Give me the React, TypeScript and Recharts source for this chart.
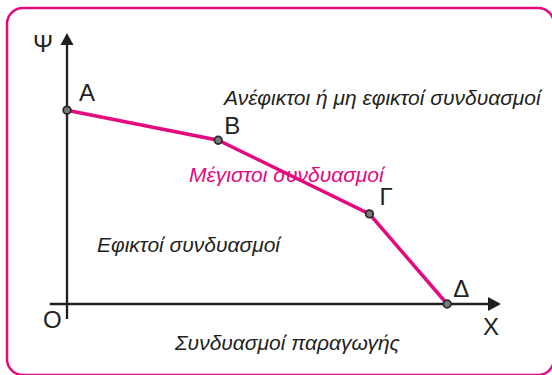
import React from 'react';
import { LineChart, Line, XAxis, YAxis, ReferenceLine, ReferenceDot, LabelList, Customized } from 'recharts';

const pointNames = ['A', 'B', 'Γ', 'Δ'];
const xValues = [0, 35, 70, 88];
const yValues = [71, 60, 33, 0];
const xAxisName = 'X';
const yAxisName = 'Ψ';
const originName = 'O';
const regionTexts = [
  'Ανέφικτοι ή μη εφικτοί συνδυασμοί',
  'Μέγιστοι συνδυασμοί',
  'Εφικτοί συνδυασμοί',
  'Συνδυασμοί παραγωγής',
];

const data = pointNames.map((name, i) => ({ name, x: xValues[i], y: yValues[i] }));

const PINK = '#e5097f';
const DARK = '#231f20';
const FONT = '"Liberation Sans", Arial, sans-serif';
const LETTER = 24;
const REGION = 21;

const labelOffsets = [
  { dx: 12, dy: -9 },
  { dx: 6, dy: -6 },
  { dx: 10, dy: -9 },
  { dx: 6, dy: -7 },
];

const PointLabel = (props: any) => {
  const { x, y, index, value } = props;
  const o = labelOffsets[index] || { dx: 6, dy: -6 };
  return (
    <text x={x + o.dx} y={y + o.dy} fontSize={LETTER} fontFamily={FONT} fill={DARK}>
      {value}
    </text>
  );
};

const RightArrow = (props: any) => {
  const { cx, cy } = props;
  return <path d={`M${cx + 2},${cy} L${cx - 11},${cy - 7} L${cx - 11},${cy + 7} Z`} fill={DARK} />;
};
const UpArrow = (props: any) => {
  const { cx, cy } = props;
  return <path d={`M${cx},${cy + 2} L${cx - 6.5},${cy + 14} L${cx + 6.5},${cy + 14} Z`} fill={DARK} />;
};

const Decor = () => (
  <g>
    <rect x={7} y={8} width={547} height={367} rx={16} ry={16} fill="none" stroke={PINK} strokeWidth={2.5} />
    <text x={33} y={52} fontSize={LETTER} fontFamily={FONT} fill={DARK}>{yAxisName}</text>
    <text x={483} y={335} fontSize={LETTER} fontFamily={FONT} fill={DARK}>{xAxisName}</text>
    <text x={43} y={328} fontSize={LETTER} fontFamily={FONT} fill={DARK}>{originName}</text>
    <text x={224} y={105} fontSize={REGION} fontStyle="italic" fontFamily={FONT} fill={DARK}>{regionTexts[0]}</text>
    <text x={189} y={182} fontSize={REGION} fontStyle="italic" fontFamily={FONT} fill={PINK}>{regionTexts[1]}</text>
    <text x={97} y={252} fontSize={REGION} fontStyle="italic" fontFamily={FONT} fill={DARK}>{regionTexts[2]}</text>
    <text x={175} y={350} fontSize={REGION} fontStyle="italic" fontFamily={FONT} fill={DARK}>{regionTexts[3]}</text>
  </g>
);

export default function App() {
  return (
    <div style={{ position: 'absolute', left: 0, top: 0, width: 552, height: 375, background: '#fff' }}>
      <LineChart width={552} height={375} data={data} margin={{ top: 31, right: 53, bottom: 71, left: 67 }}>
        <XAxis type="number" dataKey="x" domain={[0, 100]} hide />
        <YAxis type="number" dataKey="y" domain={[0, 100]} hide />
        <Customized component={Decor} />
        <ReferenceLine segment={[{ x: -4, y: 0 }, { x: 98, y: 0 }]} stroke={DARK} strokeWidth={2.3} ifOverflow="visible" />
        <ReferenceLine segment={[{ x: 0, y: -5.5 }, { x: 0, y: 97 }]} stroke={DARK} strokeWidth={2.3} ifOverflow="visible" />
        <ReferenceDot x={100} y={0} r={0} ifOverflow="visible" shape={RightArrow} />
        <ReferenceDot x={0} y={100} r={0} ifOverflow="visible" shape={UpArrow} />
        <Line
          type="linear"
          dataKey="y"
          stroke={PINK}
          strokeWidth={3.5}
          isAnimationActive={false}
          dot={{ r: 3.8, fill: '#7a7a7a', stroke: '#2b2b2b', strokeWidth: 1.8 }}
        >
          <LabelList dataKey="name" content={PointLabel} />
        </Line>
      </LineChart>
    </div>
  );
}
